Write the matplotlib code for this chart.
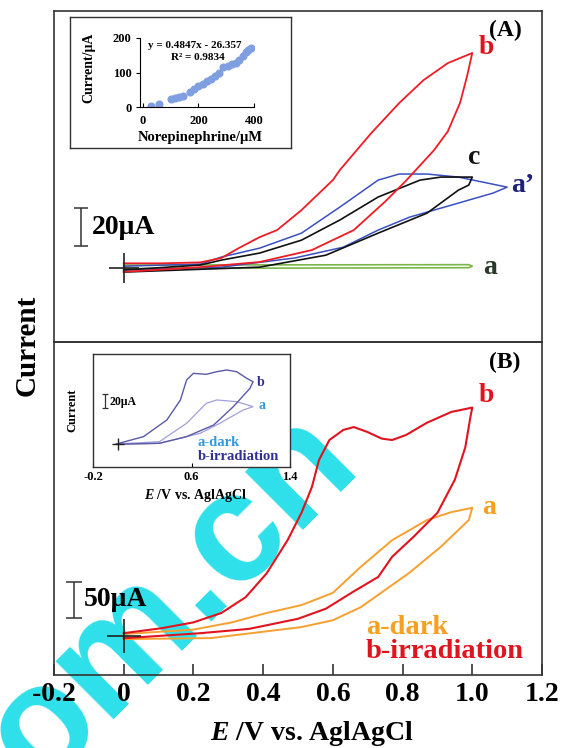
import numpy as np
import matplotlib
matplotlib.use('Agg')
import matplotlib.pyplot as plt

plt.rcParams['font.family'] = ['Liberation Serif', 'DejaVu Serif']
plt.rcParams['font.weight'] = 'bold'
plt.rcParams['mathtext.fontset'] = 'custom'
plt.rcParams['mathtext.it'] = 'Liberation Serif:italic:bold'
plt.rcParams['mathtext.rm'] = 'Liberation Serif:bold'

# ============================================
# DATE - panel (A), curent in uA vs potential in V
# ============================================

EA_b = [0.0, 0.11, 0.22, 0.28, 0.33, 0.39, 0.44, 0.51, 0.54, 0.60, 0.62, 0.71, 0.79, 0.86, 0.93, 1.0,
        0.985, 0.965, 0.93, 0.89, 0.86, 0.81, 0.75, 0.66, 0.54, 0.39, 0.22, 0.0]
IA_b = [2.5, 2.5, 3.0, 5.3, 10.5, 16.3, 20.0, 30.5, 35.8, 46.3, 51.6, 71.0, 86.8, 98.9, 107.9, 113.2,
        101, 87, 72, 62, 56, 46, 35, 20, 9.5, 3.2, 0.5, -2.0]

EA_a2 = [0.0, 0.22, 0.28, 0.39, 0.51, 0.62, 0.73, 0.79, 0.87, 0.96, 1.10,
         1.06, 0.96, 0.82, 0.73, 0.63, 0.49, 0.28, 0.0]
IA_a2 = [1.0, 2.1, 5.8, 10.5, 18.4, 32.1, 46.3, 49.5, 49.5, 47.9, 42.6,
         39.5, 34.2, 26.8, 20.0, 11.0, 5.3, 0.5, -1.0]

EA_c = [0.0, 0.22, 0.28, 0.39, 0.51, 0.62, 0.73, 0.85, 0.91, 1.0,
        0.99, 0.96, 0.87, 0.73, 0.58, 0.39, 0.0]
IA_c = [-1.0, 1.6, 4.2, 7.9, 14.7, 25.3, 37.4, 46.3, 47.9, 47.9,
        43.7, 41.0, 28.9, 18.4, 6.8, 0.5, -2.1]

EA_a = [0.0, 0.5, 0.99, 1.0, 0.99, 0.5, 0.0]
IA_a = [1.6, 1.7, 1.8, 1.0, 0.2, 0.0, -0.2]

# inset (A) - calibrare
conc = [30, 60, 100, 115, 130, 145, 170, 185, 200, 215, 230, 245, 260, 275,
        290, 305, 320, 335, 345, 360, 370, 380, 390]
curent = [3, 10, 22, 26, 28, 33, 44, 52, 60, 66, 75, 82, 90, 98,
          115, 120, 125, 128, 136, 148, 158, 165, 172]

# ============================================
# DATE - panel (B)
# ============================================

EB_b = [0.0, 0.11, 0.20, 0.28, 0.35, 0.41, 0.47, 0.51, 0.54, 0.56, 0.59, 0.63, 0.66, 0.70, 0.74, 0.77,
        0.81, 0.87, 0.94, 1.0, 0.995, 0.98, 0.95, 0.90, 0.83, 0.77, 0.73, 0.66, 0.58, 0.50, 0.36, 0.22, 0.0]
IB_b = [4, 11, 19, 32, 54, 87, 133, 171, 207, 244, 272, 286, 290, 283, 274, 272,
        279, 296, 311, 317, 305, 262, 217, 171, 137, 110, 82, 62, 38, 24, 10, 4, -3]

EB_a = [0.0, 0.20, 0.31, 0.41, 0.51, 0.60, 0.68, 0.77, 0.87, 0.94, 1.0,
        0.99, 0.91, 0.82, 0.68, 0.60, 0.51, 0.25, 0.0]
IB_a = [2.8, 9, 19, 32, 43, 60, 96, 133, 161, 172, 178,
        161, 124, 88, 40, 22, 12.5, -2.8, -4.2]

# inset (B)
Ei_b = [-0.01, 0.21, 0.40, 0.51, 0.56, 0.615, 0.72, 0.805, 0.886, 0.967, 1.048, 1.10,
        1.075, 0.94, 0.78, 0.56, 0.34, -0.01]
Ii_b = [0, 9.8, 32, 58.7, 85.3, 94.2, 92.9, 96.4, 98.7, 96.4, 87.6, 83.1,
        74.2, 49.8, 25.3, 9.8, 0.9, -0.4]
Ei_a = [-0.01, 0.34, 0.56, 0.72, 0.805, 0.967, 1.10, 1.02, 0.83, 0.67, 0.34, -0.01]
Ii_a = [0, 3.1, 27.6, 54.2, 58.7, 56.4, 49.8, 45.3, 27.6, 14.2, 0.9, -0.4]

xticks = [-0.2, 0, 0.2, 0.4, 0.6, 0.8, 1.0, 1.2]
xticklabels = ['-0.2', '0', '0.2', '0.4', '0.6', '0.8', '1.0', '1.2']

# ============================================
# GRAFICE
# ============================================

W, H = 561, 748
fig = plt.figure(figsize=(W / 100, H / 100), dpi=100)


def box(l, t, r, b):
    return [l / W, 1 - b / H, (r - l) / W, (b - t) / H]


def ftext(px, py, s, **kw):
    fig.text(px / W, 1 - py / H, s, **kw)


# watermark
ftext(172, 598, 'om.cn', fontsize=112, rotation=45, color='#2ee0ea',
      family='Liberation Sans', weight='bold', ha='center', va='center', zorder=-5)

axA = fig.add_axes(box(54, 11, 542, 342))
axB = fig.add_axes(box(54, 342, 542, 675))
for ax in (axA, axB):
    ax.set_facecolor('none')
    ax.set_xlim(-0.2, 1.2)
    for s in ax.spines.values():
        s.set_linewidth(1.2)
        s.set_color('#333333')
    ax.set_yticks([])

axA.set_ylim(-38.9, 135.3)
axB.set_ylim(-54, 408)
axA.set_xticks([])
axB.set_xticks(xticks)
axB.set_xticklabels(xticklabels, fontsize=20, fontweight='bold')
axB.tick_params(axis='x', direction='in', length=8, width=1.2, pad=5, color='#333333')

# panel A
axA.plot(EA_a, IA_a, color='#7ab648', lw=1.2)
axA.plot(EA_a2, IA_a2, color='#3a50c0', lw=1.1)
axA.plot(EA_c, IA_c, color='#111111', lw=1.2)
axA.plot(EA_b, IA_b, color='#ee1c25', lw=1.3)
axA.plot([0], [0], marker='+', ms=22, mew=1.2, color='#222222')
axA.errorbar([-0.123], [21.6], yerr=[10], color='#333333', capsize=5, lw=1.1, capthick=1.1)

# panel B
axB.plot(EB_a, IB_a, color='#f7a030', lw=1.4)
axB.plot(EB_b, IB_b, color='#e0141e', lw=1.5)
axB.plot([0], [0], marker='+', ms=25, mew=1.2, color='#222222')
axB.errorbar([-0.143], [50], yerr=[25], color='#333333', capsize=6, lw=1.1, capthick=1.1)

# texte panel A
ftext(505, 30, '(A)', fontsize=17, ha='center', va='center')
ftext(486, 47, 'b', fontsize=20, color='#e0141e', ha='center', va='center')
ftext(474, 158, 'c', fontsize=20, color='#111111', ha='center', va='center')
ftext(523, 186, 'a\u2019', fontsize=20, color='#20207a', ha='center', va='center')
ftext(490, 268, 'a', fontsize=20, color='#2a3a2a', ha='center', va='center')
ftext(92, 227, '20\u03bcA', fontsize=20, ha='left', va='center')

# texte panel B
ftext(505, 362, '(B)', fontsize=17, ha='center', va='center')
ftext(486, 395, 'b', fontsize=20, color='#e0141e', ha='center', va='center')
ftext(489, 508, 'a', fontsize=20, color='#f7a020', ha='center', va='center')
ftext(366, 627, 'a-dark', fontsize=20.5, color='#f7a020', ha='left', va='center')
ftext(366, 651, 'b-irradiation', fontsize=20.5, color='#e0141e', ha='left', va='center')
ftext(84, 599, '50\u03bcA', fontsize=20, ha='left', va='center')

# etichete axe
ftext(27, 345, 'Current', fontsize=21, rotation=90, ha='center', va='center')
ftext(312, 734, r'$E$ /V vs. AglAgCl', fontsize=20, ha='center', va='center')

# inset A
frA = fig.add_axes(box(70, 17, 291, 148))
frA.set_xticks([])
frA.set_yticks([])
for s in frA.spines.values():
    s.set_linewidth(1.0)
    s.set_color('#333333')
inA = fig.add_axes(box(140, 38, 254, 107))
inA.set_facecolor('none')
inA.set_xlim(-10, 400)
inA.set_ylim(0, 200)
inA.spines['top'].set_visible(False)
inA.spines['right'].set_visible(False)
inA.plot(conc, curent, 'o', ms=4.8, color='#7f9fe0', mec='#7f9fe0')
inA.set_xticks([0, 200, 400])
inA.set_yticks([0, 100, 200])
inA.tick_params(labelsize=9, length=3, width=0.8, pad=3)
inA.tick_params(axis='x', direction='in', pad=6)
ftext(89, 68, 'Current/\u03bcA', fontsize=10, rotation=90, ha='center', va='center')
ftext(200, 137, 'Norepinephrine/\u03bcM', fontsize=10.5, ha='center', va='center')
ftext(195, 45, 'y = 0.4847x - 26.357', fontsize=8, ha='center', va='center')
ftext(198, 58, 'R\u00b2 = 0.9834', fontsize=8, ha='center', va='center')

# inset B
inB = fig.add_axes(box(93, 354, 290, 467))
inB.set_xlim(-0.2, 1.4)
inB.set_ylim(-30.7, 120)
for s in inB.spines.values():
    s.set_linewidth(1.0)
    s.set_color('#333333')
inB.set_yticks([])
inB.set_xticks([-0.2, 0.6, 1.4])
inB.set_xticklabels(['-0.2', '0.6', '1.4'])
inB.tick_params(axis='x', labelsize=9, direction='in', length=3, pad=3)
inB.plot(Ei_a, Ii_a, color='#a0a0da', lw=0.9)
inB.plot(Ei_b, Ii_b, color='#5a5aa8', lw=1.0)
inB.plot([0], [0], marker='+', ms=9, mew=1.0, color='#222222')
inB.errorbar([-0.1025], [57], yerr=[9], color='#333333', capsize=2.5, lw=0.9, capthick=0.9)
ftext(110, 402, '20\u03bcA', fontsize=8.5, ha='left', va='center')
ftext(261, 382, 'b', fontsize=10, color='#303090', ha='center', va='center')
ftext(262, 406, 'a', fontsize=10, color='#3399dd', ha='center', va='center')
ftext(198, 443, 'a-dark', fontsize=10.5, color='#3399dd', ha='left', va='center')
ftext(198, 457, 'b-irradiation', fontsize=10.5, color='#303090', ha='left', va='center')
ftext(72, 410, 'Current', fontsize=9, rotation=90, ha='center', va='center')
ftext(195, 495, r'$E$ /V vs. AglAgCl', fontsize=10, ha='center', va='center')

fig.savefig('out.png', dpi=100)
